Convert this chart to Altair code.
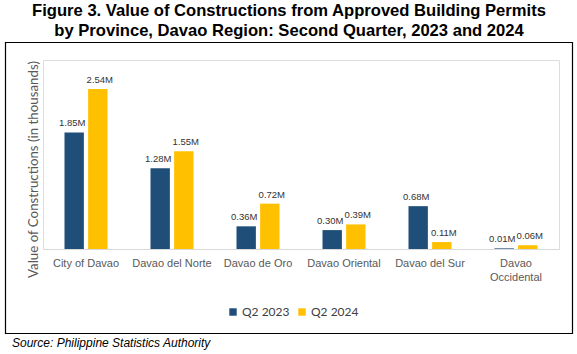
import altair as alt
import pandas as pd

provinces = ["City of Davao", "Davao del Norte", "Davao de Oro", "Davao Oriental", "Davao del Sur", "Davao\nOccidental"]
q2_2023 = [1.85, 1.28, 0.36, 0.30, 0.68, 0.01]
q2_2024 = [2.54, 1.55, 0.72, 0.39, 0.11, 0.06]
series = ["Q2 2023", "Q2 2024"]
colors = ["#1F4E79", "#FFC000"]

rows = []
for p, a, b in zip(provinces, q2_2023, q2_2024):
    rows.append({"province": p, "series": series[0], "value": a})
    rows.append({"province": p, "series": series[1], "value": b})
df = pd.DataFrame(rows)

FONT = "Liberation Sans"

x = alt.X("province:N", sort=provinces,
          scale=alt.Scale(paddingInner=0.5, paddingOuter=0.25),
          axis=alt.Axis(title=None, labelAngle=0, ticks=False, domainColor="#D9D9D9",
                        labelColor="#595959", labelFont=FONT, labelFontSize=11,
                        labelPadding=8, labelLimit=200, labelLineHeight=14,
                        labelExpr="split(datum.label, '\\n')"))
y = alt.Y("value:Q", scale=alt.Scale(domain=[0, 3.0]),
          axis=alt.Axis(title="Value of Constructions (in thousands)", labels=False, ticks=False,
                        domain=False, grid=False, titleFont="Lato", titleFontSize=13.3,
                        titleFontWeight="normal", titleColor="#595959",
                        titleX=-10, titleY=109, titleAngle=-90, titleAlign="center",
                        titleBaseline="middle"))
xo = alt.XOffset("series:N", sort=series, scale=alt.Scale(paddingInner=0.18))
color = alt.Color("series:N", sort=series, scale=alt.Scale(domain=series, range=colors),
                  legend=alt.Legend(title=None, orient="none", legendX=184, legendY=246,
                                    direction="horizontal", symbolType="square", symbolSize=55,
                                    symbolStrokeWidth=0, labelFont="Lato", labelFontSize=12,
                                    labelOffset=3, labelColor="#404040", columnPadding=6))

bars = alt.Chart(df).mark_bar().encode(x=x, y=y, xOffset=xo, color=color)

def label_layer(s, dx):
    return alt.Chart(df).transform_filter(alt.datum.series == s).transform_calculate(
        lbl="format(datum.value, '.2f') + 'M'"
    ).mark_text(dy=-9, dx=dx, font=FONT, fontSize=9.5, color="#333333").encode(
        x=x, y=y, xOffset=xo, text="lbl:N")

labels_a = label_layer(series[0], -2)
labels_b = label_layer(series[1], 2)

box = alt.Chart(pd.DataFrame({"k": [0]})).mark_rect(fill=None, stroke="#000000", strokeWidth=1.2).encode(
    x=alt.value(-37.5), x2=alt.value(529.5), y=alt.value(-17.5), y2=alt.value(273.5))

source = alt.Chart(pd.DataFrame({"t": ["Source: Philippine Statistics Authority"]})).mark_text(
    align="left", baseline="middle", font=FONT, fontSize=12, fontStyle="italic",
    color="#000000").encode(x=alt.value(-31), y=alt.value(283), text="t:N")

chart = alt.layer(bars, labels_a, labels_b, box, source).properties(
    width=516, height=189,
    title=alt.TitleParams(
        ["Figure 3. Value of Constructions from Approved Building Permits",
         "by Province, Davao Region: Second Quarter, 2023 and 2024"],
        font=FONT, fontSize=16.6, fontWeight="bold", color="#000000", anchor="middle",
        frame="group", dx=-12, lineHeight=20, offset=2),
    autosize=alt.AutoSizeParams(type="none"),
    padding={"left": 43, "top": 60, "right": 18, "bottom": 105},
).configure_view(stroke=None).configure(background="white")

chart.save("out.html", embed_options={"renderer": "svg", "actions": False})
